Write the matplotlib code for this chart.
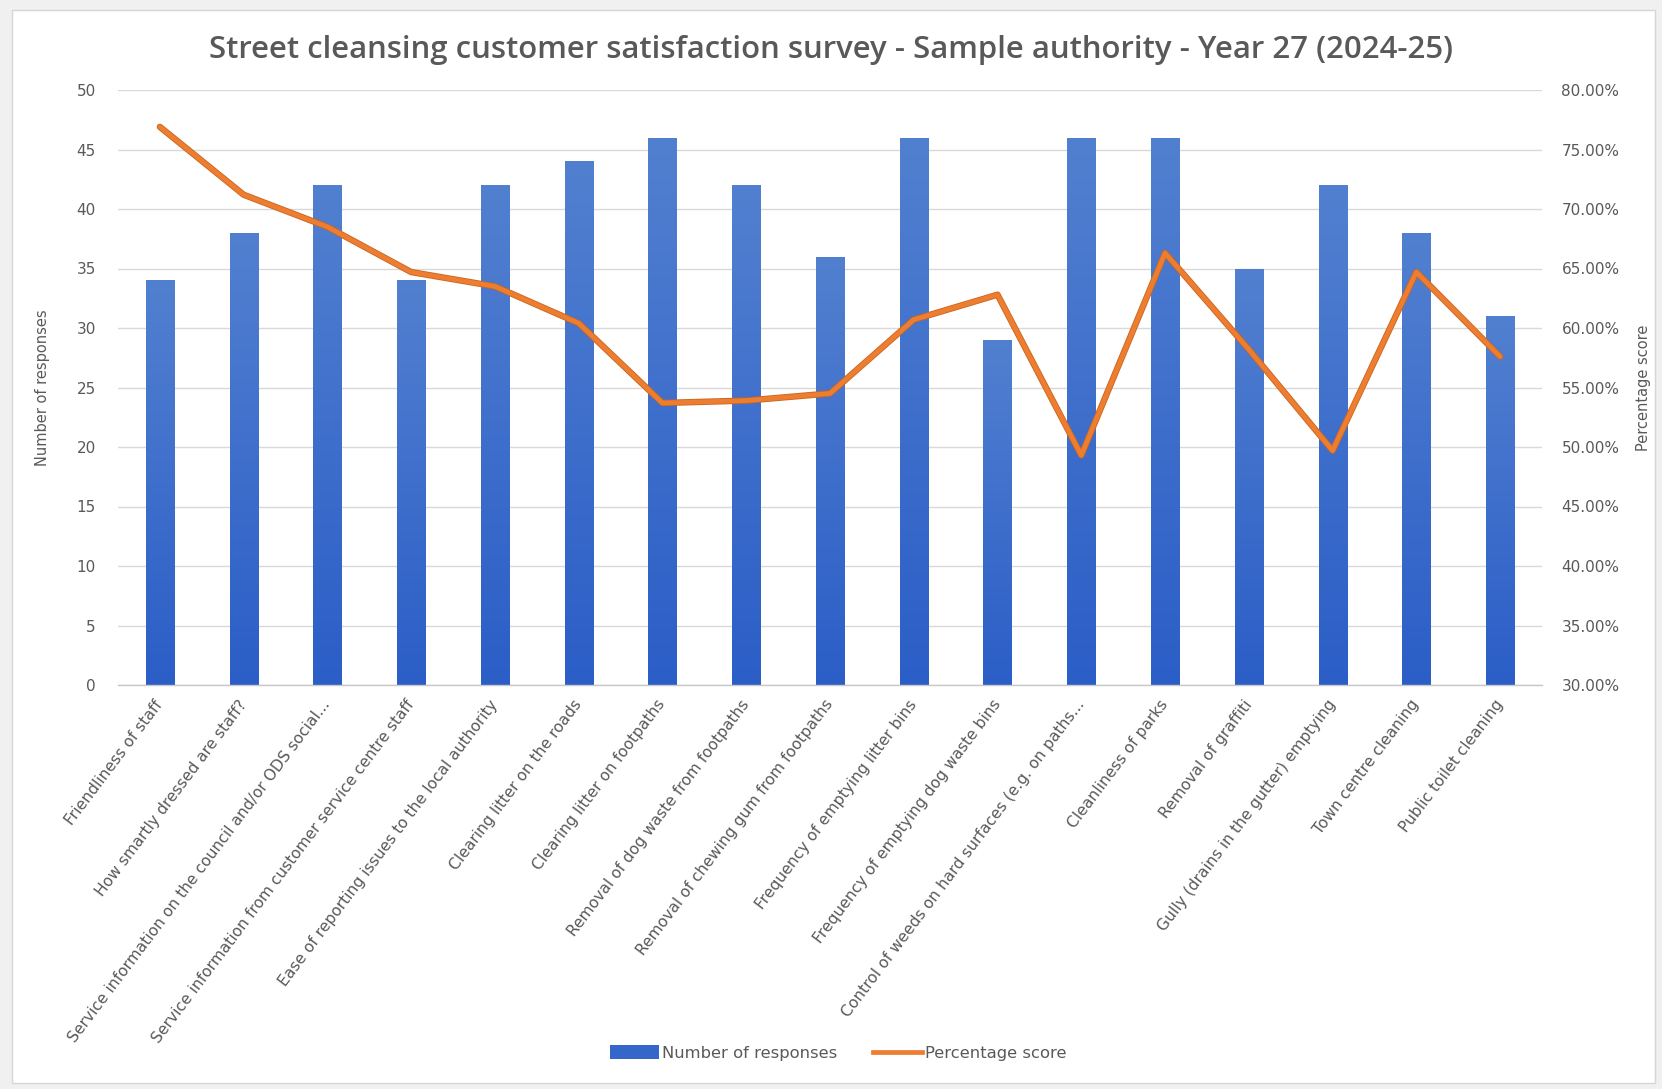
import numpy as np
import matplotlib
matplotlib.use("Agg")
import matplotlib.pyplot as plt
from matplotlib.ticker import FixedLocator, FuncFormatter
from matplotlib.patches import Rectangle
from matplotlib.lines import Line2D
from matplotlib.colors import LinearSegmentedColormap
import matplotlib.patheffects as pe

# ---- survey data -------------------------------------------------------
categories = [
    "Friendliness of staff",
    "How smartly dressed are staff?",
    "Service information on the council and/or ODS social...",
    "Service information from customer service centre staff",
    "Ease of reporting issues to the local authority",
    "Clearing litter on the roads",
    "Clearing litter on footpaths",
    "Removal of dog waste from footpaths",
    "Removal of chewing gum from footpaths",
    "Frequency of emptying litter bins",
    "Frequency of emptying dog waste bins",
    "Control of weeds on hard surfaces (e.g. on paths...",
    "Cleanliness of parks",
    "Removal of graffiti",
    "Gully (drains in the gutter) emptying",
    "Town centre cleaning",
    "Public toilet cleaning",
]
responses = [34, 38, 42, 34, 42, 44, 46, 42, 36, 46, 29, 46, 46, 35, 42, 38, 31]
percentage_score = [76.9, 71.2, 68.5, 64.7, 63.5, 60.4, 53.7, 53.9, 54.5,
                    60.7, 62.8, 49.3, 66.3, 58.2, 49.7, 64.7, 57.6]

count_ticks = [0, 5, 10, 15, 20, 25, 30, 35, 40, 45, 50]
pct_ticks = [30, 35, 40, 45, 50, 55, 60, 65, 70, 75, 80]

title = "Street cleansing customer satisfaction survey - Sample authority - Year 27 (2024-25)"

# ---- styling -----------------------------------------------------------
W, H = 1662, 1089
TEXT = "#595959"
GRID = "#D9D9D9"
BAR_TOP = "#5280D0"
BAR_BOTTOM = "#2B5EC7"
LINE = "#ED7D31"
small_font = "DejaVu Sans"

fig = plt.figure(figsize=(W / 100, H / 100), dpi=100, facecolor="#F0F0F0")

# white chart area with thin border, kept behind the axes
fig.patches.append(Rectangle((12 / W, 1 - 1083 / H), (1655 - 12) / W, (1083 - 10) / H,
                             transform=fig.transFigure, facecolor="white",
                             edgecolor="#D6D6D6", lw=1.0, zorder=-10))

left, right, top, bottom = 118, 1542, 90, 685
ax = fig.add_axes([left / W, 1 - bottom / H, (right - left) / W, (bottom - top) / H])
ax.set_facecolor("none")

x = np.arange(len(categories))
bars = ax.bar(x, responses, width=0.335, color=BAR_BOTTOM, zorder=2, linewidth=0)

# vertical gradient inside each column
grad_cmap = LinearSegmentedColormap.from_list("colgrad", [BAR_BOTTOM, BAR_TOP])
grad = np.linspace(0, 1, 256).reshape(-1, 1)
for b in bars:
    x0, w, h = b.get_x(), b.get_width(), b.get_height()
    im = ax.imshow(grad, extent=[x0, x0 + w, 0, h], origin="lower", aspect="auto",
                   cmap=grad_cmap, zorder=2.1, interpolation="bilinear")
    im.set_clip_path(b)

ax.set_xlim(-0.5, len(categories) - 0.5)
ax.set_ylim(count_ticks[0], count_ticks[-1])
ax.yaxis.set_major_locator(FixedLocator(count_ticks))
ax.yaxis.grid(True, color=GRID, lw=1.0, zorder=0)
ax.set_axisbelow(True)
for side in ("top", "left", "right"):
    ax.spines[side].set_visible(False)
ax.spines["bottom"].set_color("#C8C8C8")
ax.spines["bottom"].set_linewidth(1.0)
ax.tick_params(axis="both", length=0, colors=TEXT)
ax.tick_params(axis="y", pad=16, labelsize=11)
for lab in ax.get_yticklabels():
    lab.set_family(small_font)

ax.set_xticks(x)
ax.set_xticklabels(categories, rotation=53, ha="right", va="center",
                   rotation_mode="anchor", fontsize=11.2, color=TEXT,
                   family=small_font)
ax.tick_params(axis="x", pad=12)

ax.set_ylabel("Number of responses", fontsize=10.5, color=TEXT, family=small_font,
              labelpad=19)

# percentage score on the secondary axis
ax2 = ax.twinx()
ax2.set_facecolor("none")
ax2.plot(x, percentage_score, color=LINE, lw=3.4, zorder=3, solid_joinstyle="round",
         solid_capstyle="round",
         path_effects=[pe.Stroke(linewidth=4.6, foreground="#C9661F"), pe.Normal()])
ax2.set_ylim(pct_ticks[0], pct_ticks[-1])
ax2.yaxis.set_major_locator(FixedLocator(pct_ticks))
ax2.yaxis.set_major_formatter(FuncFormatter(lambda v, _: f"{v:.2f}%"))
for side in ("top", "left", "right", "bottom"):
    ax2.spines[side].set_visible(False)
ax2.tick_params(axis="both", length=0, colors=TEXT)
ax2.tick_params(axis="y", pad=14, labelsize=11)
for lab in ax2.get_yticklabels():
    lab.set_family(small_font)
ax2.set_ylabel("Percentage score", fontsize=10.5, color=TEXT, family=small_font,
               labelpad=12)

fig.text(0.5, 1 - 50 / H, title, ha="center", va="center", fontsize=22.4,
         color=TEXT, family="Open Sans", weight="semibold")

handles = [
    Rectangle((0, 0), 1, 1, facecolor="#3566C9", edgecolor="none"),
    Line2D([0], [0], color=LINE, lw=3.4),
]
fig.legend(handles, ["Number of responses", "Percentage score"], loc="center",
           bbox_to_anchor=(838 / W, 1 - 1053 / H), ncol=2, frameon=False,
           handlelength=3.0, handleheight=0.9, handletextpad=0.15, columnspacing=2.2,
           prop={"family": small_font, "size": 11.8}, labelcolor=TEXT)

fig.savefig("out.png", dpi=100, facecolor=fig.get_facecolor())
